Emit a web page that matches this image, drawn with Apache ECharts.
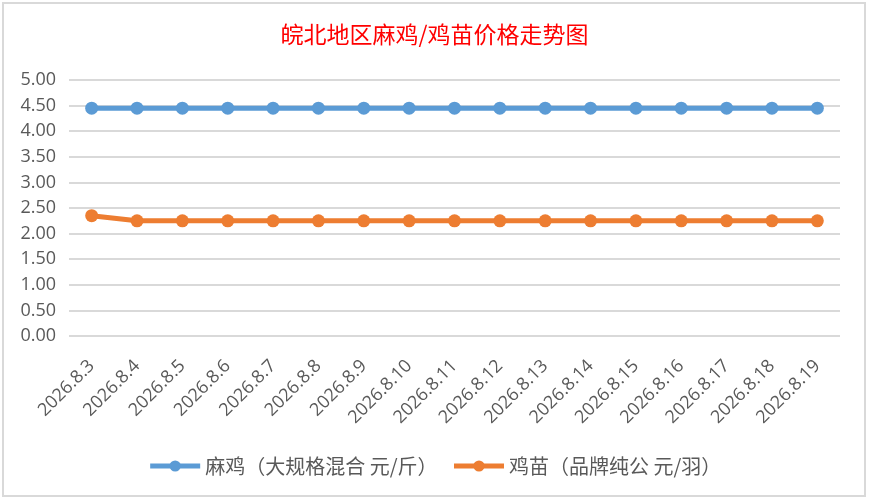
<!DOCTYPE html>
<html>
<head>
<meta charset="utf-8">
<style>
  html, body { margin: 0; padding: 0; background: #fff; }
  #wrap { position: absolute; left: 2px; top: 2px; width: 864px; height: 495px; border: 2px solid #d9d9d9; box-sizing: border-box; }
  #main { position: absolute; left: 0; top: 0; width: 869px; height: 501px; }
</style>
<script src="https://cdn.jsdelivr.net/npm/echarts@6/dist/echarts.min.js"></script>
</head>
<body>
<div id="wrap"></div>
<div id="main"></div>
<script>
  // 日期
  const dates = ['2026.8.3', '2026.8.4', '2026.8.5', '2026.8.6', '2026.8.7', '2026.8.8', '2026.8.9',
    '2026.8.10', '2026.8.11', '2026.8.12', '2026.8.13', '2026.8.14', '2026.8.15', '2026.8.16',
    '2026.8.17', '2026.8.18', '2026.8.19'];
  // 麻鸡 元/斤
  const maji = [4.45, 4.45, 4.45, 4.45, 4.45, 4.45, 4.45, 4.45, 4.45, 4.45, 4.45, 4.45, 4.45, 4.45, 4.45, 4.45, 4.45];
  // 鸡苗 元/羽
  const jimiao = [2.35, 2.25, 2.25, 2.25, 2.25, 2.25, 2.25, 2.25, 2.25, 2.25, 2.25, 2.25, 2.25, 2.25, 2.25, 2.25, 2.25];
  const seriesNames = ['麻鸡（大规格混合 元/斤）', '鸡苗（品牌纯公 元/羽）'];

  const font = '"Noto Sans CJK SC", "Microsoft YaHei", sans-serif';
  const chart = echarts.init(document.getElementById('main'));

  const option = {
    animation: false,
    textStyle: { fontFamily: font },
    title: {
      text: '皖北地区麻鸡/鸡苗价格走势图',
      left: 'center',
      top: 18,
      textStyle: { color: '#ff0000', fontSize: 23, fontWeight: 'normal', fontFamily: font }
    },
    legend: {
      bottom: 20,
      left: 'center',
      itemWidth: 50,
      itemHeight: 14,
      itemGap: 14,
      lineStyle: { width: 5 },
      textStyle: { color: '#595959', fontSize: 20, fontFamily: font },
      data: seriesNames
    },
    grid: { left: 69, right: 29, top: 80, bottom: 165 },
    xAxis: {
      type: 'category',
      data: dates,
      boundaryGap: true,
      axisLine: { show: false },
      axisTick: { show: false },
      axisLabel: { rotate: 45, color: '#595959', fontSize: 18, margin: 27, interval: 0, fontFamily: 'Open Sans, sans-serif' }
    },
    yAxis: {
      type: 'value',
      min: 0,
      max: 5,
      interval: 0.5,
      axisLine: { show: false },
      axisTick: { show: false },
      axisLabel: { color: '#595959', fontSize: 18, margin: 13, formatter: v => v.toFixed(2), fontFamily: 'Open Sans, sans-serif' },
      splitLine: { lineStyle: { color: '#d9d9d9', width: 2 } }
    },
    series: [
      {
        name: seriesNames[0],
        type: 'line',
        data: maji,
        symbol: 'circle',
        symbolSize: 13,
        itemStyle: { color: '#5b9bd5' },
        lineStyle: { color: '#5b9bd5', width: 5 }
      },
      {
        name: seriesNames[1],
        type: 'line',
        data: jimiao,
        symbol: 'circle',
        symbolSize: 13,
        itemStyle: { color: '#ed7d31' },
        lineStyle: { color: '#ed7d31', width: 5 }
      }
    ]
  };

  chart.setOption(option);
</script>
</body>
</html>
